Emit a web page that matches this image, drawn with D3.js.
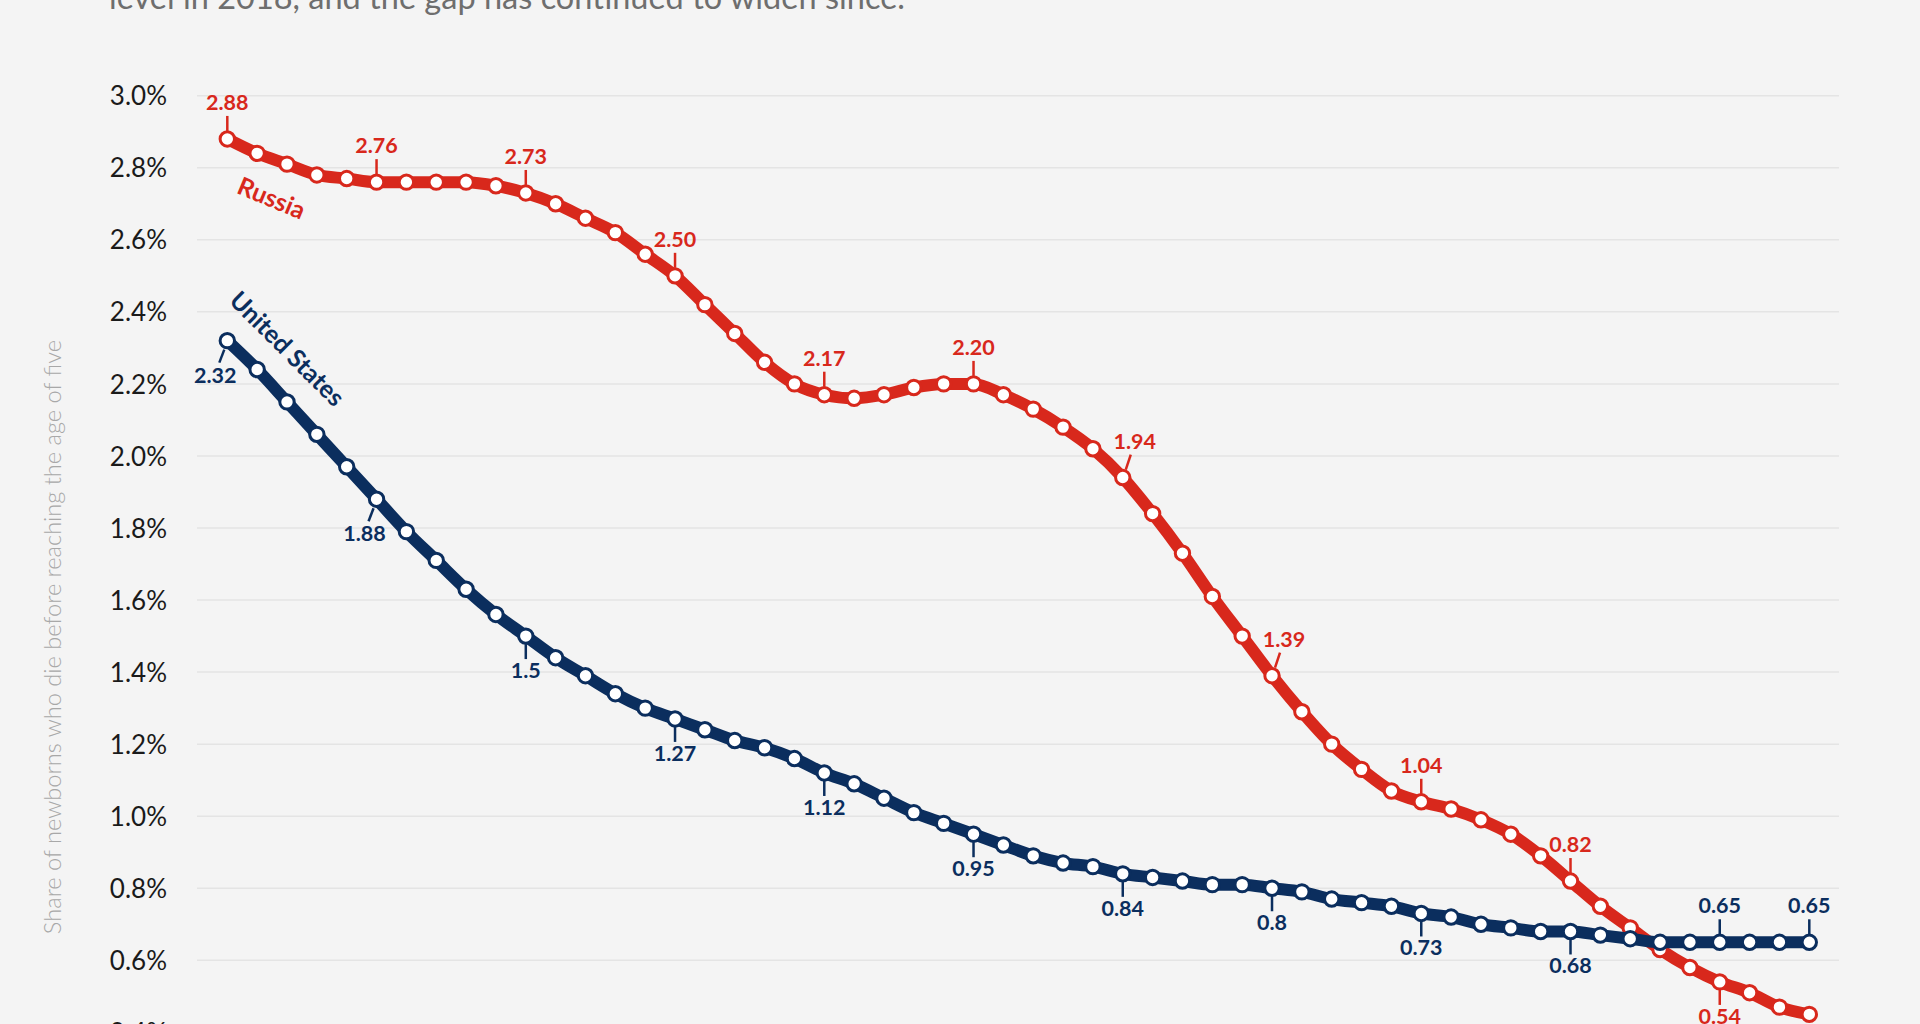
<!DOCTYPE html>
<html>
<head>
<meta charset="utf-8">
<script src="https://cdn.jsdelivr.net/npm/d3@7"></script>
<style>
  html, body { margin: 0; padding: 0; background: #f4f4f4; overflow: hidden; }
  svg { display: block; }
  text { font-family: Lato, "Noto Sans", sans-serif; }
</style>
</head>
<body>
<script>
// ---------------- DATA ----------------
const years = [1970,1971,1972,1973,1974,1975,1976,1977,1978,1979,
               1980,1981,1982,1983,1984,1985,1986,1987,1988,1989,
               1990,1991,1992,1993,1994,1995,1996,1997,1998,1999,
               2000,2001,2002,2003,2004,2005,2006,2007,2008,2009,
               2010,2011,2012,2013,2014,2015,2016,2017,2018,2019,
               2020,2021,2022,2023];

const russia = [2.88,2.84,2.81,2.78,2.77,2.76,2.76,2.76,2.76,2.75,
                2.73,2.70,2.66,2.62,2.56,2.50,2.42,2.34,2.26,2.20,
                2.17,2.16,2.17,2.19,2.20,2.20,2.17,2.13,2.08,2.02,
                1.94,1.84,1.73,1.61,1.50,1.39,1.29,1.20,1.13,1.07,
                1.04,1.02,0.99,0.95,0.89,0.82,0.75,0.69,0.63,0.58,
                0.54,0.51,0.47,0.45];

const unitedStates = [2.32,2.24,2.15,2.06,1.97,1.88,1.79,1.71,1.63,1.56,
                      1.50,1.44,1.39,1.34,1.30,1.27,1.24,1.21,1.19,1.16,
                      1.12,1.09,1.05,1.01,0.98,0.95,0.92,0.89,0.87,0.86,
                      0.84,0.83,0.82,0.81,0.81,0.80,0.79,0.77,0.76,0.75,
                      0.73,0.72,0.70,0.69,0.68,0.68,0.67,0.66,0.65,0.65,
                      0.65,0.65,0.65,0.65];

const yTicks = [0.4,0.6,0.8,1.0,1.2,1.4,1.6,1.8,2.0,2.2,2.4,2.6,2.8,3.0];

// years that carry a value label
const russiaLabelYears = [1970,1975,1980,1985,1990,1995,2000,2005,2010,2015,2020];
const usLabelYears     = [1970,1975,1980,1985,1990,1995,2000,2005,2010,2015,2020,2023];

// label placement (annotation layout)
const russiaLabelPlace = ["above","above","above","above","above","above","aboveRight","aboveRight","above","above","below"];
const usLabelPlace     = ["belowLeft","belowLeft","below","below","below","below","below","below","below","below","above","above"];

const subtitleLine = "level in 2018, and the gap has continued to widen since.";
const yAxisTitle = "Share of newborns who die before reaching the age of five";

// ---------------- STYLE ----------------
const W = 1920, H = 1024;
const RED = "#d8281c", NAVY = "#0b2e5e";

const svg = d3.select("body").append("svg")
  .attr("width", W).attr("height", H)
  .attr("viewBox", `0 0 ${W} ${H}`);

svg.append("rect").attr("width", W).attr("height", H).attr("fill", "#f4f4f4");

const x = d3.scaleLinear().domain([1970, 2023]).range([227.3, 1809.3]);
const y = d3.scaleLinear().domain([0.6, 3.0]).range([960.3, 95.7]);

// subtitle (cut off at the top)
svg.append("text")
  .attr("x", 109).attr("y", 9)
  .attr("font-size", 32.5)
  .attr("fill", "#6e6e6e")
  .text(subtitleLine);

// grid
const grid = svg.append("g");
grid.selectAll("line").data(yTicks).join("line")
  .attr("x1", 197).attr("x2", 1839)
  .attr("y1", d => y(d)).attr("y2", d => y(d))
  .attr("stroke", "#e4e4e4").attr("stroke-width", 1.5);

// y axis via d3.axisLeft
const yAxis = d3.axisLeft(y).tickValues(yTicks)
  .tickFormat(d => d3.format(".1f")(d) + "%")
  .tickSize(0).tickPadding(0);
const gy = svg.append("g").attr("transform", "translate(167,0)").call(yAxis);
gy.select(".domain").remove();
gy.selectAll("text")
  .attr("font-family", "Lato, sans-serif")
  .attr("font-size", 26)
  .attr("fill", "#1a1a1a")
  .attr("dy", "0.35em");

// y axis title
svg.append("text")
  .attr("transform", "translate(52,637) rotate(-90)")
  .attr("text-anchor", "middle")
  .attr("dominant-baseline", "central")
  .attr("font-size", 23.6)
  .attr("font-weight", 300)
  .attr("fill", "#a8a8a8")
  .text(yAxisTitle);

const line = d3.line()
  .x((d, i) => x(years[i]))
  .y(d => y(d))
  .curve(d3.curveMonotoneX);

function drawSeries(values, color, labelYears, labelPlace, fmt) {
  const g = svg.append("g");
  g.append("path")
    .attr("d", line(values))
    .attr("fill", "none")
    .attr("stroke", color)
    .attr("stroke-width", 12)
    .attr("stroke-linejoin", "round")
    .attr("stroke-linecap", "round");
  g.selectAll("circle").data(values).join("circle")
    .attr("cx", (d, i) => x(years[i]))
    .attr("cy", d => y(d))
    .attr("r", 7.2)
    .attr("fill", "#fff")
    .attr("stroke", color)
    .attr("stroke-width", 3);

  const offs = {
    above:      {t: [0,-8,0,-23],  tx: 0,   ty: -29},
    below:      {t: [0,8,0,23],    tx: 0,   ty: 42},
    aboveRight: {t: [3,-8,8,-23],  tx: 12,  ty: -29},
    belowLeft:  {t: [-3,9,-8,22],  tx: -12, ty: 42}
  };
  labelYears.forEach((yr, k) => {
    const i = years.indexOf(yr);
    const px = x(yr), py = y(values[i]);
    const o = offs[labelPlace[k]];
    g.append("line")
      .attr("x1", px + o.t[0]).attr("y1", py + o.t[1])
      .attr("x2", px + o.t[2]).attr("y2", py + o.t[3])
      .attr("stroke", color).attr("stroke-width", 2.5);
    g.append("text")
      .attr("x", px + o.tx).attr("y", py + o.ty)
      .attr("text-anchor", "middle")
      .attr("font-size", 21.5)
      .attr("font-weight", 700)
      .attr("fill", color)
      .text(fmt(values[i]));
  });
}

drawSeries(russia, RED, russiaLabelYears, russiaLabelPlace, d3.format(".2f"));
drawSeries(unitedStates, NAVY, usLabelYears, usLabelPlace, v => String(+v.toFixed(2)));

// series names
svg.append("text")
  .attr("transform", "translate(272,197) rotate(22.5)")
  .attr("text-anchor", "middle").attr("dominant-baseline", "central")
  .attr("font-size", 25).attr("font-weight", 700)
  .attr("fill", RED).text("Russia");

svg.append("text")
  .attr("transform", "translate(288,348) rotate(45)")
  .attr("text-anchor", "middle").attr("dominant-baseline", "central")
  .attr("font-size", 25).attr("font-weight", 700)
  .attr("fill", NAVY).text("United States");
</script>
</body>
</html>
